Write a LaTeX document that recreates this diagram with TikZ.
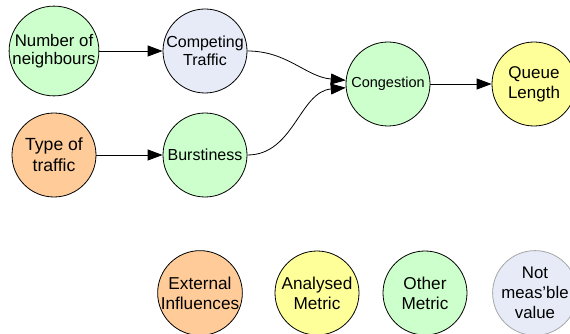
\documentclass[tikz,border=0pt]{standalone}
\usepackage{fontspec}
\setmainfont{Liberation Sans}
\usetikzlibrary{arrows.meta}

\definecolor{metricgreen}{HTML}{CCFFCC}
\definecolor{unknownblue}{HTML}{E6EBF7}
\definecolor{externalorange}{HTML}{FFCC99}
\definecolor{analysedyellow}{HTML}{FFFF99}

\tikzset{
  factor/.style={circle,draw,line width=0.8pt,minimum size=84pt,inner sep=0pt,
    align=center,font=\fontsize{16}{18.5}\selectfont},
  legend/.style={factor,font=\fontsize{17.2}{20}\selectfont},
  link/.style={-{Triangle[length=15pt,width=11pt]},line width=0.8pt}
}

\begin{document}
\begin{tikzpicture}[x=1pt,y=-1pt]
  \useasboundingbox (0,0) rectangle (570,334);

  \node[factor,fill=metricgreen,font=\fontsize{16.8}{18.5}\selectfont]
                                    (neighbours) at (54,51)  {Number of\\neighbours};
  \node[factor,fill=unknownblue]    (competing)  at (205,51) {Competing\\Traffic};
  \node[factor,fill=externalorange,font=\fontsize{17.6}{21}\selectfont]
                                    (type)       at (54,155) {Type of\\traffic};
  \node[factor,fill=metricgreen]    (burst)      at (205,155) {Burstiness};
  \node[factor,fill=metricgreen,font=\fontsize{14.5}{17}\selectfont]
                                    (congestion) at (388,84) {Congestion};
  \node[factor,fill=analysedyellow,font=\fontsize{17}{20}\selectfont]
                                    (queue)      at (534,84) {Queue\\Length};

  % legend
  \node[legend,fill=externalorange] (external) at (200,293) {External\\Influences};
  \node[legend,fill=analysedyellow] (analysed) at (317,293) {Analysed\\Metric};
  \node[legend,fill=metricgreen]    (other)    at (425,293) {Other\\Metric};
  \node[legend,fill=unknownblue,draw=gray!70,font=\fontsize{16.8}{20}\selectfont]
                                    (notmeas)  at (535,293) {Not\\meas'ble\\value};

  \path[link]
    (neighbours) edge (competing)
    (type)       edge (burst)

    (competing)  edge [out=0,in=175] (congestion)
    (burst)      edge [out=0,in=185] (congestion)

    (congestion) edge (queue);
\end{tikzpicture}
\end{document}
